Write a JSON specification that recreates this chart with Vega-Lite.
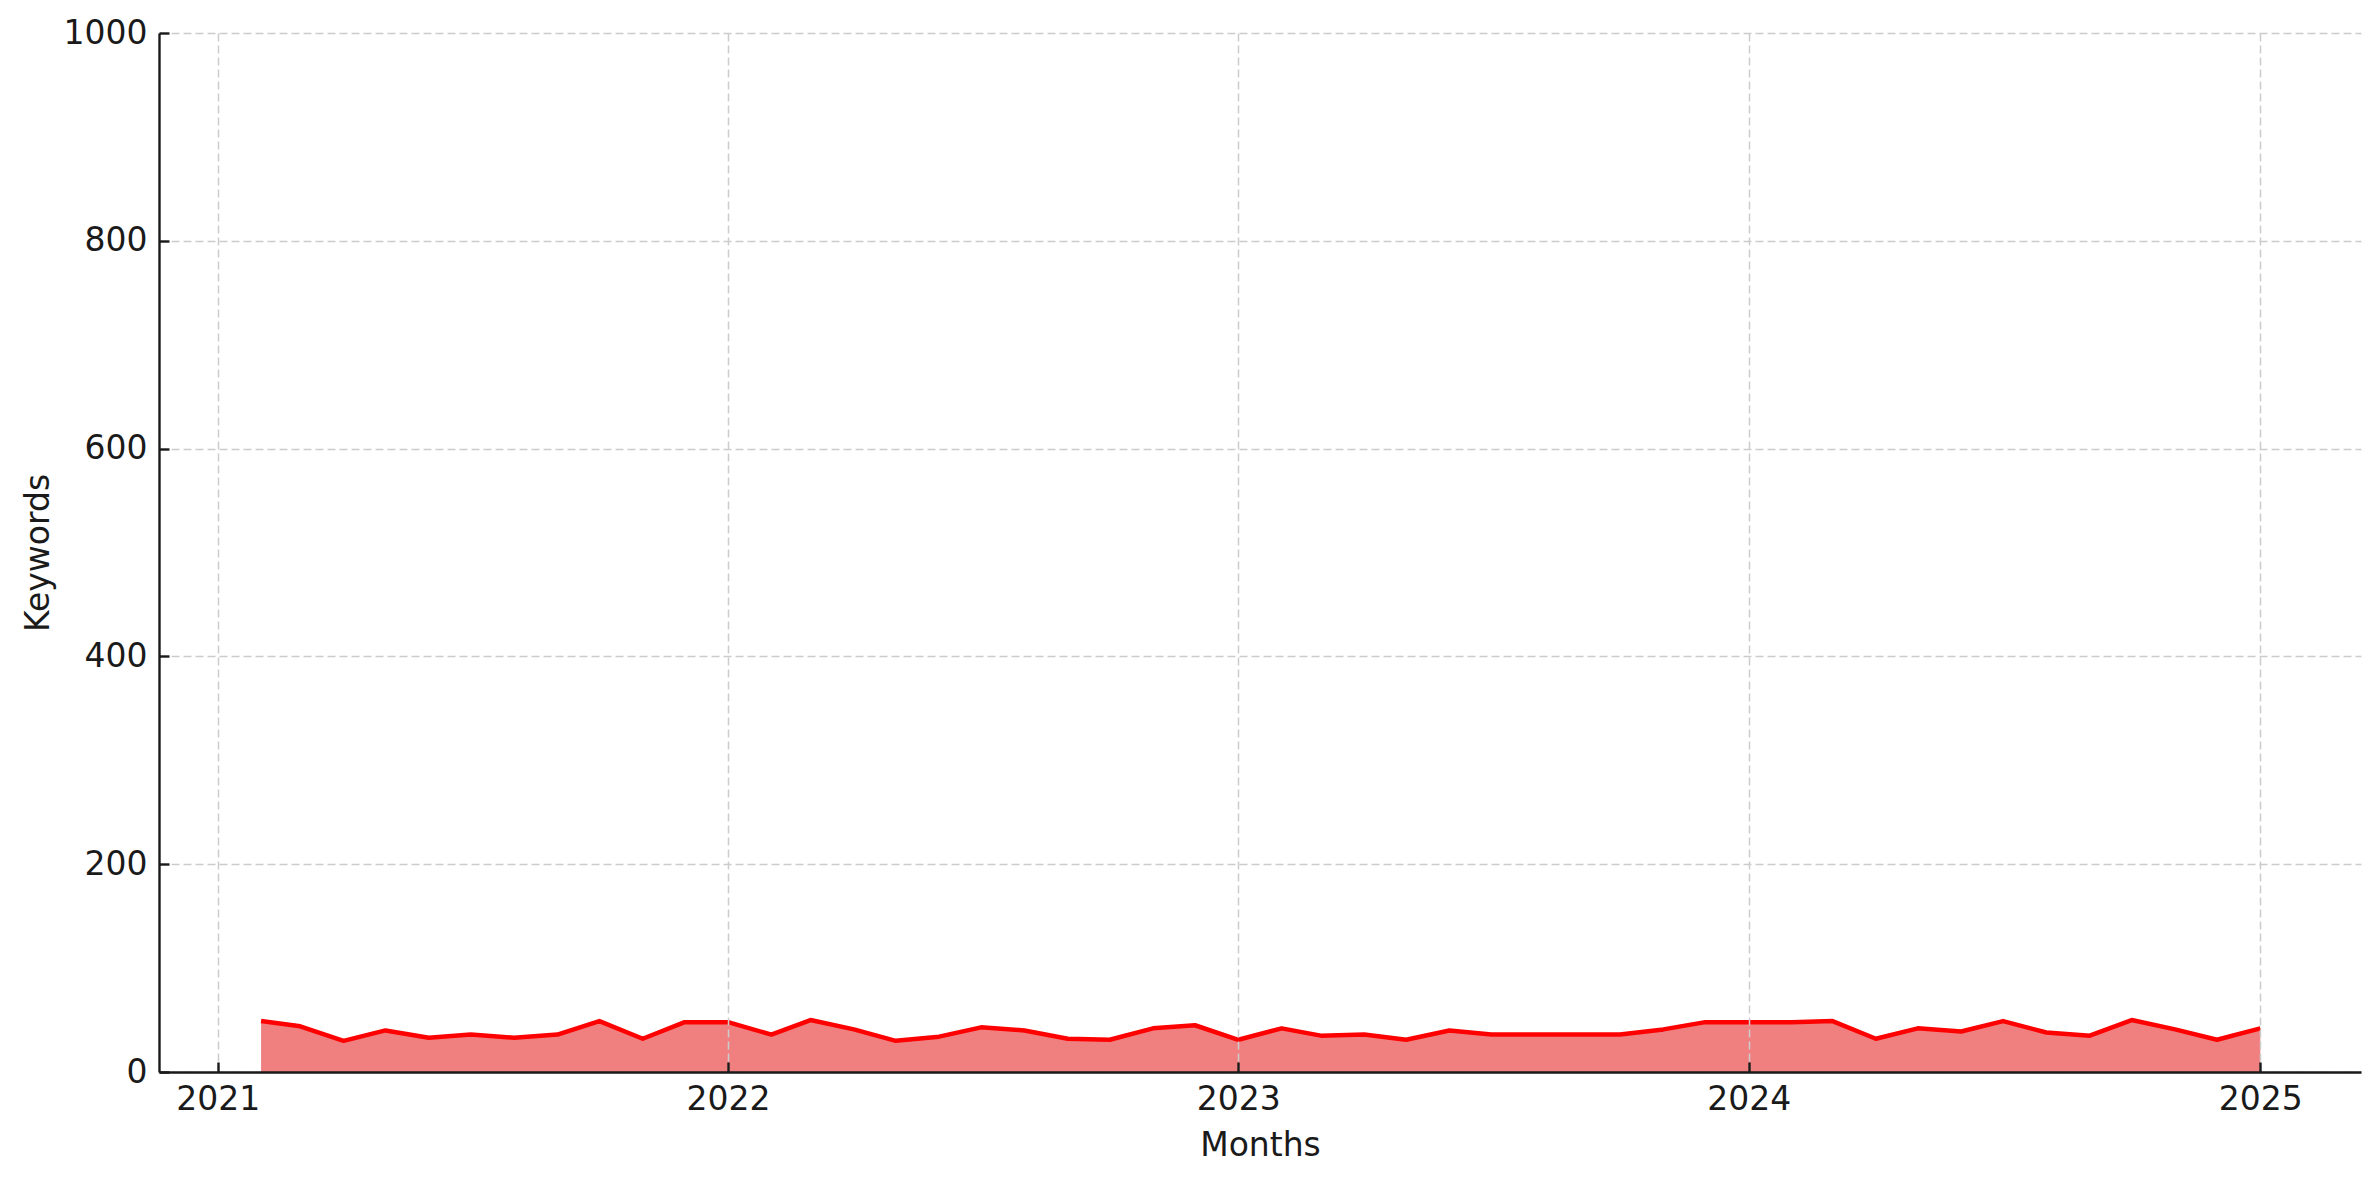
{
  "$schema": "https://vega.github.io/schema/vega-lite/v6.json",
  "width": 2202,
  "height": 1039,
  "autosize": {"type": "none"},
  "padding": {"left": 159, "top": 33, "right": 18, "bottom": 108},
  "background": "white",
  "data": {
    "values": [
      {"month": "2021-02-01", "keywords": 49},
      {"month": "2021-03-01", "keywords": 44},
      {"month": "2021-04-01", "keywords": 30},
      {"month": "2021-05-01", "keywords": 40},
      {"month": "2021-06-01", "keywords": 33},
      {"month": "2021-07-01", "keywords": 36},
      {"month": "2021-08-01", "keywords": 33},
      {"month": "2021-09-01", "keywords": 36},
      {"month": "2021-10-01", "keywords": 49},
      {"month": "2021-11-01", "keywords": 32},
      {"month": "2021-12-01", "keywords": 48},
      {"month": "2022-01-01", "keywords": 48},
      {"month": "2022-02-01", "keywords": 36},
      {"month": "2022-03-01", "keywords": 50},
      {"month": "2022-04-01", "keywords": 41},
      {"month": "2022-05-01", "keywords": 30},
      {"month": "2022-06-01", "keywords": 34},
      {"month": "2022-07-01", "keywords": 43},
      {"month": "2022-08-01", "keywords": 40},
      {"month": "2022-09-01", "keywords": 32},
      {"month": "2022-10-01", "keywords": 31},
      {"month": "2022-11-01", "keywords": 42},
      {"month": "2022-12-01", "keywords": 45},
      {"month": "2023-01-01", "keywords": 31},
      {"month": "2023-02-01", "keywords": 42},
      {"month": "2023-03-01", "keywords": 35},
      {"month": "2023-04-01", "keywords": 36},
      {"month": "2023-05-01", "keywords": 31},
      {"month": "2023-06-01", "keywords": 40},
      {"month": "2023-07-01", "keywords": 36},
      {"month": "2023-08-01", "keywords": 36},
      {"month": "2023-09-01", "keywords": 36},
      {"month": "2023-10-01", "keywords": 36},
      {"month": "2023-11-01", "keywords": 41},
      {"month": "2023-12-01", "keywords": 48},
      {"month": "2024-01-01", "keywords": 48},
      {"month": "2024-02-01", "keywords": 48},
      {"month": "2024-03-01", "keywords": 49},
      {"month": "2024-04-01", "keywords": 32},
      {"month": "2024-05-01", "keywords": 42},
      {"month": "2024-06-01", "keywords": 39},
      {"month": "2024-07-01", "keywords": 49},
      {"month": "2024-08-01", "keywords": 38},
      {"month": "2024-09-01", "keywords": 35},
      {"month": "2024-10-01", "keywords": 50},
      {"month": "2024-11-01", "keywords": 41},
      {"month": "2024-12-01", "keywords": 31},
      {"month": "2025-01-01", "keywords": 42}
    ]
  },
  "encoding": {
    "x": {
      "field": "month",
      "type": "temporal",
      "scale": {
        "type": "utc",
        "nice": false,
        "domain": [
          {"year": 2020, "month": 11, "date": 20, "utc": true},
          {"year": 2025, "month": 3, "date": 14, "utc": true}
        ]
      },
      "axis": {
        "title": "Months",
        "format": "%Y",
        "values": [
          {"year": 2021, "utc": true},
          {"year": 2022, "utc": true},
          {"year": 2023, "utc": true},
          {"year": 2024, "utc": true},
          {"year": 2025, "utc": true}
        ],
        "labelPadding": 21,
        "titlePadding": 13,
        "zindex": 1
      }
    },
    "y": {
      "field": "keywords",
      "type": "quantitative",
      "scale": {"domain": [0, 1000], "nice": false},
      "axis": {
        "title": "Keywords",
        "format": "d",
        "values": [0, 200, 400, 600, 800, 1000],
        "labelPadding": 22,
        "titlePadding": 8
      }
    }
  },
  "layer": [
    {"mark": {"type": "area", "color": "#f08080", "opacity": 1}},
    {"mark": {"type": "line", "color": "#ff0000", "strokeWidth": 4.5, "strokeJoin": "round"}}
  ],
  "config": {
    "view": {"stroke": null},
    "axis": {
      "labelFont": "DejaVu Sans",
      "labelFontSize": 33,
      "labelColor": "#1a1a1a",
      "labelFlush": false,
      "labelOverlap": false,
      "titleFont": "DejaVu Sans",
      "titleFontSize": 33,
      "titleFontWeight": "normal",
      "titleColor": "#1a1a1a",
      "domainColor": "#1a1a1a",
      "domainWidth": 2.4,
      "tickColor": "#1a1a1a",
      "tickWidth": 2.4,
      "tickSize": -10,
      "grid": true,
      "gridColor": "#cccccc",
      "gridWidth": 1.5,
      "gridDash": [8, 4]
    }
  }
}
